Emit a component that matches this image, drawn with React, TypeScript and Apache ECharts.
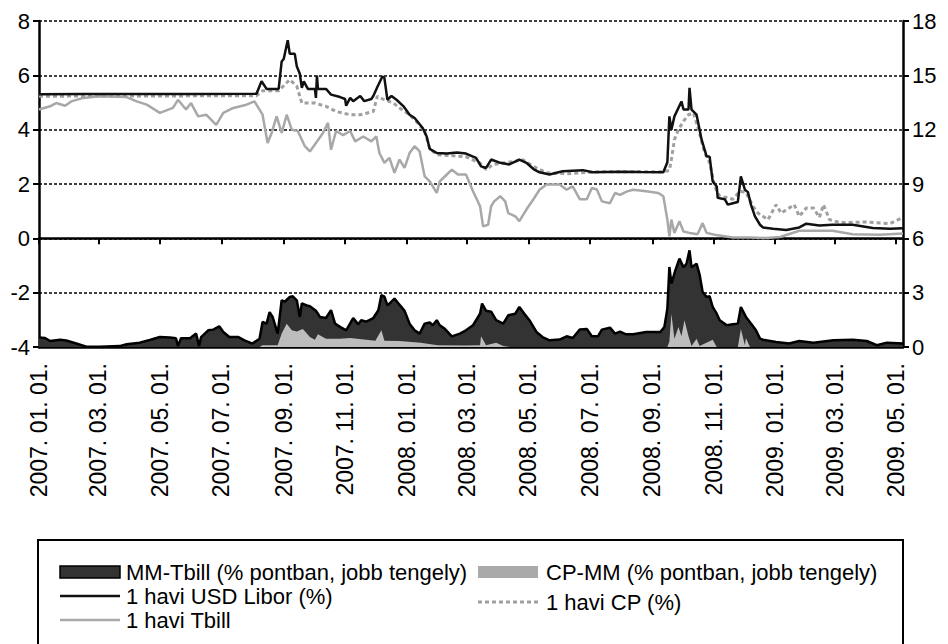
import React, { useEffect, useRef } from "react";
import * as echarts from "echarts";

const START_DATE = "2007-01-01";
const END_DATE = "2009-05-08";

const tickDates = [
  "2007-01-01", "2007-03-01", "2007-05-01", "2007-07-01", "2007-09-01", "2007-11-01",
  "2008-01-01", "2008-03-01", "2008-05-01", "2008-07-01", "2008-09-01", "2008-11-01",
  "2009-01-01", "2009-03-01", "2009-05-01",
];

const leftTicks = { min: -4, max: 8, interval: 2 };
const rightTicks = { min: 0, max: 18, interval: 3 };

const legendNames = [
  "MM-Tbill (% pontban, jobb tengely)",
  "CP-MM (% pontban, jobb tengely)",
  "1 havi USD Libor (%)",
  "1 havi CP (%)",
  "1 havi Tbill",
];

const libor: [string, number][] = [
  ["2007-01-01", 5.30], ["2007-02-15", 5.31], ["2007-04-01", 5.31], ["2007-06-01", 5.31],
  ["2007-08-05", 5.32], ["2007-08-10", 5.78], ["2007-08-15", 5.50], ["2007-08-27", 5.50],
  ["2007-08-30", 6.51], ["2007-09-01", 6.60], ["2007-09-05", 7.29], ["2007-09-07", 6.79],
  ["2007-09-12", 6.79], ["2007-09-14", 6.33], ["2007-09-17", 6.06], ["2007-09-19", 5.54],
  ["2007-09-21", 5.78], ["2007-09-25", 5.50], ["2007-10-02", 5.50], ["2007-10-03", 5.17],
  ["2007-10-04", 5.99], ["2007-10-05", 5.50], ["2007-10-13", 5.50], ["2007-10-18", 5.29],
  ["2007-10-27", 5.20], ["2007-11-01", 5.13], ["2007-11-02", 4.88], ["2007-11-06", 5.17],
  ["2007-11-09", 5.05], ["2007-11-16", 5.24], ["2007-11-20", 5.05], ["2007-11-27", 5.13],
  ["2007-11-29", 5.24], ["2007-12-03", 5.57], ["2007-12-08", 5.96], ["2007-12-10", 5.90],
  ["2007-12-13", 5.10], ["2007-12-17", 5.24], ["2007-12-22", 5.10], ["2007-12-29", 4.86],
  ["2008-01-04", 4.55], ["2008-01-09", 4.43], ["2008-01-17", 4.06], ["2008-01-21", 3.75],
  ["2008-01-24", 3.29], ["2008-01-31", 3.14], ["2008-02-10", 3.12], ["2008-02-20", 3.16],
  ["2008-02-29", 3.12], ["2008-03-10", 2.96], ["2008-03-15", 2.65], ["2008-03-20", 2.59],
  ["2008-03-25", 2.90], ["2008-04-03", 2.78], ["2008-04-12", 2.72], ["2008-04-22", 2.90],
  ["2008-04-29", 2.78], ["2008-05-06", 2.55], ["2008-05-12", 2.43], ["2008-05-22", 2.35],
  ["2008-06-04", 2.47], ["2008-06-24", 2.51], ["2008-07-04", 2.43], ["2008-07-31", 2.45],
  ["2008-08-20", 2.44], ["2008-09-12", 2.43], ["2008-09-16", 2.80], ["2008-09-18", 4.49],
  ["2008-09-20", 4.00], ["2008-09-23", 4.49], ["2008-09-30", 5.04], ["2008-10-02", 4.74],
  ["2008-10-07", 4.74], ["2008-10-08", 5.54], ["2008-10-10", 4.74], ["2008-10-15", 4.55],
  ["2008-10-20", 3.63], ["2008-10-25", 3.02], ["2008-10-28", 3.00], ["2008-10-31", 2.10],
  ["2008-11-04", 1.91], ["2008-11-05", 1.49], ["2008-11-12", 1.44], ["2008-11-15", 1.24],
  ["2008-11-20", 1.29], ["2008-11-25", 1.34], ["2008-11-28", 2.28], ["2008-12-02", 1.79],
  ["2008-12-05", 1.70], ["2008-12-08", 1.24], ["2008-12-12", 0.81], ["2008-12-17", 0.50],
  ["2008-12-20", 0.40], ["2008-12-30", 0.35], ["2009-01-12", 0.31], ["2009-01-25", 0.40],
  ["2009-02-01", 0.54], ["2009-02-14", 0.47], ["2009-02-27", 0.50], ["2009-03-19", 0.50],
  ["2009-04-08", 0.38], ["2009-04-25", 0.35], ["2009-05-08", 0.37],
];

const tbill: [string, number][] = [
  ["2007-01-01", 4.74], ["2007-01-12", 4.86], ["2007-01-18", 4.98], ["2007-01-27", 4.88],
  ["2007-02-02", 5.04], ["2007-02-14", 5.17], ["2007-03-02", 5.23], ["2007-03-29", 5.20],
  ["2007-04-08", 5.04], ["2007-04-18", 4.92], ["2007-05-01", 4.62], ["2007-05-14", 4.80],
  ["2007-05-19", 5.10], ["2007-05-27", 4.74], ["2007-06-01", 4.98], ["2007-06-08", 4.49],
  ["2007-06-16", 4.55], ["2007-06-26", 4.18], ["2007-07-03", 4.62], ["2007-07-13", 4.80],
  ["2007-07-26", 4.92], ["2007-08-03", 5.04], ["2007-08-08", 4.74], ["2007-08-11", 4.55],
  ["2007-08-16", 3.51], ["2007-08-20", 3.88], ["2007-08-25", 4.49], ["2007-08-30", 3.88],
  ["2007-09-04", 4.55], ["2007-09-09", 4.00], ["2007-09-15", 3.95], ["2007-09-22", 3.39],
  ["2007-09-27", 3.20], ["2007-10-03", 3.51], ["2007-10-10", 3.88], ["2007-10-15", 4.25],
  ["2007-10-18", 3.26], ["2007-10-23", 3.95], ["2007-10-30", 3.80], ["2007-11-06", 3.95],
  ["2007-11-11", 3.57], ["2007-11-19", 3.75], ["2007-11-27", 3.57], ["2007-12-02", 3.75],
  ["2007-12-05", 3.14], ["2007-12-10", 2.78], ["2007-12-15", 2.96], ["2007-12-20", 2.41],
  ["2007-12-25", 2.90], ["2007-12-30", 2.59], ["2008-01-04", 3.14], ["2008-01-09", 3.39],
  ["2008-01-14", 3.20], ["2008-01-19", 2.28], ["2008-01-24", 2.10], ["2008-01-31", 1.67],
  ["2008-02-03", 2.10], ["2008-02-10", 2.35], ["2008-02-15", 2.53], ["2008-02-21", 2.35],
  ["2008-02-29", 2.35], ["2008-03-07", 1.73], ["2008-03-14", 1.18], ["2008-03-17", 0.44],
  ["2008-03-22", 0.50], ["2008-03-25", 1.18], ["2008-03-28", 1.36], ["2008-04-03", 1.55],
  ["2008-04-08", 1.36], ["2008-04-11", 0.93], ["2008-04-18", 0.81], ["2008-04-22", 0.63],
  ["2008-04-29", 1.06], ["2008-05-06", 1.44], ["2008-05-12", 1.79], ["2008-05-19", 1.98],
  ["2008-06-01", 1.98], ["2008-06-08", 1.79], ["2008-06-14", 1.91], ["2008-06-21", 1.44],
  ["2008-06-28", 1.44], ["2008-07-03", 1.85], ["2008-07-08", 1.80], ["2008-07-13", 1.36],
  ["2008-07-21", 1.29], ["2008-07-26", 1.67], ["2008-07-31", 1.60], ["2008-08-07", 1.73],
  ["2008-08-13", 1.79], ["2008-08-26", 1.73], ["2008-09-07", 1.67], ["2008-09-12", 1.55],
  ["2008-09-16", 0.69], ["2008-09-18", 0.07], ["2008-09-20", 0.69], ["2008-09-23", 0.20],
  ["2008-09-28", 0.63], ["2008-10-02", 0.25], ["2008-10-08", 0.20], ["2008-10-16", 0.15],
  ["2008-10-21", 0.56], ["2008-10-25", 0.20], ["2008-11-02", 0.13], ["2008-11-20", 0.03],
  ["2008-12-07", 0.03], ["2008-12-23", 0.01], ["2009-01-06", 0.05], ["2009-01-25", 0.28],
  ["2009-02-27", 0.28], ["2009-03-19", 0.15], ["2009-04-15", 0.13], ["2009-05-08", 0.18],
];

const cp: [string, number][] = [
  ["2007-01-01", 5.23], ["2007-03-01", 5.24], ["2007-05-01", 5.24], ["2007-07-01", 5.25],
  ["2007-08-05", 5.25], ["2007-08-11", 5.43], ["2007-08-27", 5.43], ["2007-09-07", 5.84],
  ["2007-09-14", 5.60], ["2007-09-19", 4.98], ["2007-10-02", 4.98], ["2007-10-13", 4.86],
  ["2007-10-23", 4.67], ["2007-11-06", 4.55], ["2007-11-16", 4.55], ["2007-11-29", 4.67],
  ["2007-12-03", 5.23], ["2007-12-10", 5.10], ["2007-12-19", 4.98], ["2007-12-25", 4.80],
  ["2008-01-04", 4.55], ["2008-01-12", 4.25], ["2008-01-19", 3.95], ["2008-01-24", 3.30],
  ["2008-01-31", 3.08], ["2008-02-13", 3.05], ["2008-02-29", 3.00], ["2008-03-14", 2.77],
  ["2008-03-20", 2.53], ["2008-03-27", 2.72], ["2008-04-19", 2.84], ["2008-04-24", 2.92],
  ["2008-05-06", 2.65], ["2008-05-19", 2.41], ["2008-06-08", 2.38], ["2008-07-11", 2.45],
  ["2008-09-12", 2.45], ["2008-09-18", 2.50], ["2008-09-20", 2.90], ["2008-09-23", 3.63],
  ["2008-09-27", 4.00], ["2008-10-02", 4.31], ["2008-10-07", 4.55], ["2008-10-12", 4.61],
  ["2008-10-17", 4.00], ["2008-10-23", 3.14], ["2008-10-28", 2.78], ["2008-11-02", 1.91],
  ["2008-11-07", 1.55], ["2008-11-14", 1.50], ["2008-11-20", 1.44], ["2008-11-27", 1.73],
  ["2008-12-03", 1.70], ["2008-12-10", 1.18], ["2008-12-15", 0.93], ["2008-12-25", 0.69],
  ["2009-01-02", 1.24], ["2009-01-07", 0.93], ["2009-01-20", 1.24], ["2009-01-25", 0.81],
  ["2009-02-01", 1.12], ["2009-02-08", 1.12], ["2009-02-14", 0.77], ["2009-02-18", 1.24],
  ["2009-02-24", 0.69], ["2009-03-06", 0.58], ["2009-04-02", 0.60], ["2009-04-25", 0.54],
  ["2009-05-08", 0.77],
];

const mmTbill: [string, number][] = [
  ["2007-01-01", 0.52], ["2007-01-07", 0.50], ["2007-01-12", 0.33], ["2007-01-22", 0.40],
  ["2007-01-28", 0.36], ["2007-02-07", 0.19], ["2007-02-17", 0.02], ["2007-03-02", 0.02],
  ["2007-03-22", 0.05], ["2007-03-29", 0.15], ["2007-04-11", 0.24], ["2007-04-21", 0.39],
  ["2007-05-01", 0.55], ["2007-05-11", 0.52], ["2007-05-17", 0.48], ["2007-05-19", 0.05],
  ["2007-05-22", 0.48], ["2007-05-31", 0.48], ["2007-06-06", 0.74], ["2007-06-09", 0.05],
  ["2007-06-11", 0.55], ["2007-06-18", 0.92], ["2007-06-23", 0.96], ["2007-06-29", 1.14],
  ["2007-07-03", 0.83], ["2007-07-09", 0.55], ["2007-07-18", 0.55], ["2007-07-24", 0.37],
  ["2007-08-01", 0.19], ["2007-08-08", 0.46], ["2007-08-11", 1.38], ["2007-08-15", 1.29],
  ["2007-08-18", 1.93], ["2007-08-21", 1.66], ["2007-08-26", 0.74], ["2007-08-30", 2.58],
  ["2007-09-02", 2.50], ["2007-09-07", 2.76], ["2007-09-10", 2.80], ["2007-09-14", 2.58],
  ["2007-09-17", 1.66], ["2007-09-19", 2.40], ["2007-09-24", 2.30], ["2007-09-27", 2.25],
  ["2007-10-03", 2.00], ["2007-10-07", 1.66], ["2007-10-13", 1.60], ["2007-10-18", 2.03],
  ["2007-10-22", 1.29], ["2007-10-27", 1.11], ["2007-11-02", 0.92], ["2007-11-09", 1.60],
  ["2007-11-14", 1.25], ["2007-11-17", 1.48], ["2007-11-22", 1.40], ["2007-11-29", 1.60],
  ["2007-12-04", 2.03], ["2007-12-07", 2.86], ["2007-12-10", 2.78], ["2007-12-13", 2.30],
  ["2007-12-17", 2.50], ["2007-12-20", 2.67], ["2007-12-24", 2.40], ["2007-12-27", 2.20],
  ["2007-12-30", 2.00], ["2008-01-04", 1.29], ["2008-01-09", 0.92], ["2008-01-14", 0.74],
  ["2008-01-19", 1.29], ["2008-01-24", 1.35], ["2008-01-27", 1.20], ["2008-01-31", 1.48],
  ["2008-02-03", 1.20], ["2008-02-08", 1.00], ["2008-02-15", 0.59], ["2008-02-23", 0.74],
  ["2008-02-29", 0.92], ["2008-03-07", 1.20], ["2008-03-14", 1.84], ["2008-03-16", 2.40],
  ["2008-03-20", 2.00], ["2008-03-25", 1.95], ["2008-03-30", 1.48], ["2008-04-06", 1.29],
  ["2008-04-11", 1.75], ["2008-04-18", 1.84], ["2008-04-22", 2.21], ["2008-04-27", 1.84],
  ["2008-05-02", 1.48], ["2008-05-09", 0.83], ["2008-05-15", 0.55], ["2008-05-22", 0.37],
  ["2008-06-01", 0.41], ["2008-06-08", 0.59], ["2008-06-14", 0.50], ["2008-06-21", 0.96],
  ["2008-06-28", 1.00], ["2008-07-03", 0.59], ["2008-07-09", 0.59], ["2008-07-13", 0.96],
  ["2008-07-21", 1.07], ["2008-07-26", 0.74], ["2008-07-31", 0.85], ["2008-08-06", 0.70],
  ["2008-08-13", 0.70], ["2008-08-26", 0.83], ["2008-09-09", 0.83], ["2008-09-13", 1.10],
  ["2008-09-16", 2.12], ["2008-09-18", 4.42], ["2008-09-20", 3.50], ["2008-09-24", 4.24],
  ["2008-09-28", 4.88], ["2008-10-02", 4.40], ["2008-10-05", 4.60], ["2008-10-08", 5.34],
  ["2008-10-10", 4.40], ["2008-10-15", 4.60], ["2008-10-18", 4.00], ["2008-10-21", 3.04],
  ["2008-10-25", 2.76], ["2008-10-28", 2.80], ["2008-10-31", 2.21], ["2008-11-04", 1.84],
  ["2008-11-07", 1.48], ["2008-11-14", 1.20], ["2008-11-20", 1.25], ["2008-11-25", 1.29],
  ["2008-11-28", 2.21], ["2008-12-03", 1.66], ["2008-12-08", 1.30], ["2008-12-13", 0.92],
  ["2008-12-17", 0.46], ["2008-12-20", 0.40], ["2009-01-02", 0.28], ["2009-01-15", 0.19],
  ["2009-01-25", 0.33], ["2009-02-08", 0.24], ["2009-02-28", 0.37], ["2009-03-19", 0.40],
  ["2009-04-02", 0.33], ["2009-04-12", 0.10], ["2009-04-22", 0.24], ["2009-05-08", 0.19],
];

const cpMm: [string, number][] = [
  ["2007-01-01", 0], ["2007-08-08", 0], ["2007-08-11", 0.10], ["2007-08-26", 0.10],
  ["2007-08-30", 0.74], ["2007-09-04", 1.29], ["2007-09-09", 0.92], ["2007-09-14", 0.85],
  ["2007-09-20", 1.00], ["2007-09-27", 0.55], ["2007-10-02", 0.40], ["2007-10-05", 0.70],
  ["2007-10-13", 0.46], ["2007-10-27", 0.46], ["2007-11-06", 0.50], ["2007-11-22", 0.40],
  ["2007-12-01", 0.35], ["2007-12-07", 0.92], ["2007-12-10", 0.35], ["2007-12-25", 0.33],
  ["2008-01-15", 0.24], ["2008-02-01", 0.10], ["2008-02-29", 0.08], ["2008-03-14", 0.10],
  ["2008-03-15", 0.60], ["2008-03-20", 0.10], ["2008-03-30", 0.24], ["2008-04-06", 0.05],
  ["2008-04-13", 0], ["2008-09-16", 0], ["2008-09-18", 0.30], ["2008-09-20", 1.84],
  ["2008-09-23", 0.46], ["2008-09-27", 1.11], ["2008-09-30", 0.60], ["2008-10-03", 1.48],
  ["2008-10-07", 0.60], ["2008-10-10", 0.05], ["2008-10-15", 0.46], ["2008-10-18", 0.05],
  ["2008-10-31", 0.40], ["2008-11-04", 0], ["2008-11-25", 0], ["2008-11-28", 1.00],
  ["2008-12-02", 0.10], ["2008-12-03", 0.50], ["2008-12-07", 0], ["2009-05-08", 0],
];

function buildDays(start: string, end: string): string[] {
  const out: string[] = [];
  const s = new Date(start + "T00:00:00Z").getTime();
  const e = new Date(end + "T00:00:00Z").getTime();
  for (let t = s; t <= e; t += 86400000) {
    out.push(new Date(t).toISOString().slice(0, 10));
  }
  return out;
}

const FONT = "'Liberation Sans', Arial, Helvetica, sans-serif";

export default function App() {
  const ref = useRef<HTMLDivElement>(null);

  useEffect(() => {
    document.body.style.margin = "0";
    if (!ref.current) return;
    const chart = echarts.init(ref.current, undefined, { renderer: "svg" });
    const days = buildDays(START_DATE, END_DATE);
    const tickSet = new Set(tickDates);
    const isTick = (_i: number, v: string) => tickSet.has(v);

    const gridLine = { color: "#000", width: 1.5, type: [3, 2] as number[] };
    const axisLineStyle = { color: "#000", width: 2.5 };

    const option: any = {
      animation: false,
      backgroundColor: "#fff",
      grid: { left: 39, right: 45, top: 21, bottom: 297, containLabel: false },
      xAxis: [
        {
          type: "category",
          data: days,
          boundaryGap: false,
          position: "bottom",
          axisLine: { onZero: false, lineStyle: axisLineStyle },
          axisTick: { show: false },
          axisLabel: {
            interval: isTick,
            rotate: 90,
            margin: 16,
            color: "#000",
            fontSize: 23,
            fontFamily: FONT,
            formatter: (v: string) => v.split("-").join(". ") + ".",
          },
          splitLine: { show: false },
        },
        {
          type: "category",
          data: days,
          boundaryGap: false,
          position: "bottom",
          axisLine: { onZero: true, onZeroAxisIndex: 0, lineStyle: axisLineStyle },
          axisTick: { show: true, interval: isTick, length: 6, lineStyle: { color: "#000", width: 2 } },
          axisLabel: { show: false },
          splitLine: { show: false },
        },
      ],
      yAxis: [
        {
          type: "value",
          position: "left",
          min: leftTicks.min,
          max: leftTicks.max,
          interval: leftTicks.interval,
          axisLine: { show: true, lineStyle: axisLineStyle },
          axisTick: { show: true, length: 6, lineStyle: { color: "#000", width: 2 } },
          axisLabel: { color: "#000", fontSize: 22, fontFamily: FONT, margin: 9 },
          splitLine: { show: true, lineStyle: gridLine },
        },
        {
          type: "value",
          position: "right",
          min: rightTicks.min,
          max: rightTicks.max,
          interval: rightTicks.interval,
          axisLine: { show: true, lineStyle: axisLineStyle },
          axisTick: { show: true, length: 6, lineStyle: { color: "#000", width: 2 } },
          axisLabel: { color: "#000", fontSize: 22, fontFamily: FONT, margin: 9 },
          splitLine: { show: false },
        },
      ],
      series: [
        {
          name: legendNames[0],
          type: "line",
          xAxisIndex: 0,
          yAxisIndex: 1,
          data: mmTbill,
          symbol: "none",
          lineStyle: { color: "#000", width: 2.5 },
          areaStyle: { color: "#333333", opacity: 1 },
          z: 2,
        },
        {
          name: legendNames[1],
          type: "line",
          xAxisIndex: 0,
          yAxisIndex: 1,
          data: cpMm,
          symbol: "none",
          lineStyle: { width: 0, color: "#bdbdbd" },
          areaStyle: { color: "#bdbdbd", opacity: 1 },
          z: 3,
        },
        {
          name: legendNames[4],
          type: "line",
          xAxisIndex: 0,
          yAxisIndex: 0,
          data: tbill,
          symbol: "none",
          lineStyle: { color: "#a8a8a8", width: 2.5 },
          z: 4,
        },
        {
          name: legendNames[3],
          type: "line",
          xAxisIndex: 0,
          yAxisIndex: 0,
          data: cp,
          symbol: "none",
          lineStyle: { color: "#a0a0a0", width: 3, type: [4, 3] },
          z: 5,
        },
        {
          name: legendNames[2],
          type: "line",
          xAxisIndex: 0,
          yAxisIndex: 0,
          data: libor,
          symbol: "none",
          lineStyle: { color: "#111", width: 2.5 },
          z: 6,
        },
      ],
      graphic: [
        {
          type: "rect",
          shape: { x: 38, y: 540, width: 865, height: 130 },
          style: { fill: "#fff", stroke: "#000", lineWidth: 2 },
        },
        {
          type: "rect",
          shape: { x: 60, y: 566, width: 60, height: 12 },
          style: { fill: "#333", stroke: "#000", lineWidth: 1.5 },
        },
        {
          type: "text",
          x: 126, y: 572,
          style: { text: legendNames[0], fill: "#000", font: `22px ${FONT}`, verticalAlign: "middle" },
        },
        {
          type: "rect",
          shape: { x: 478, y: 566, width: 60, height: 12 },
          style: { fill: "#aaaaaa" },
        },
        {
          type: "text",
          x: 546, y: 572,
          style: { text: legendNames[1], fill: "#000", font: `22px ${FONT}`, verticalAlign: "middle" },
        },
        {
          type: "line",
          shape: { x1: 60, y1: 596, x2: 120, y2: 596 },
          style: { stroke: "#111", lineWidth: 2.5 },
        },
        {
          type: "text",
          x: 126, y: 596,
          style: { text: legendNames[2], fill: "#000", font: `22px ${FONT}`, verticalAlign: "middle" },
        },
        {
          type: "line",
          shape: { x1: 478, y1: 602, x2: 538, y2: 602 },
          style: { stroke: "#a0a0a0", lineWidth: 3, lineDash: [4, 3] },
        },
        {
          type: "text",
          x: 546, y: 602,
          style: { text: legendNames[3], fill: "#000", font: `22px ${FONT}`, verticalAlign: "middle" },
        },
        {
          type: "line",
          shape: { x1: 60, y1: 620, x2: 120, y2: 620 },
          style: { stroke: "#a8a8a8", lineWidth: 2.5 },
        },
        {
          type: "text",
          x: 126, y: 620,
          style: { text: legendNames[4], fill: "#000", font: `22px ${FONT}`, verticalAlign: "middle" },
        },
      ],
    };

    chart.setOption(option);
    return () => chart.dispose();
  }, []);

  return <div ref={ref} style={{ width: 948, height: 644 }} />;
}
